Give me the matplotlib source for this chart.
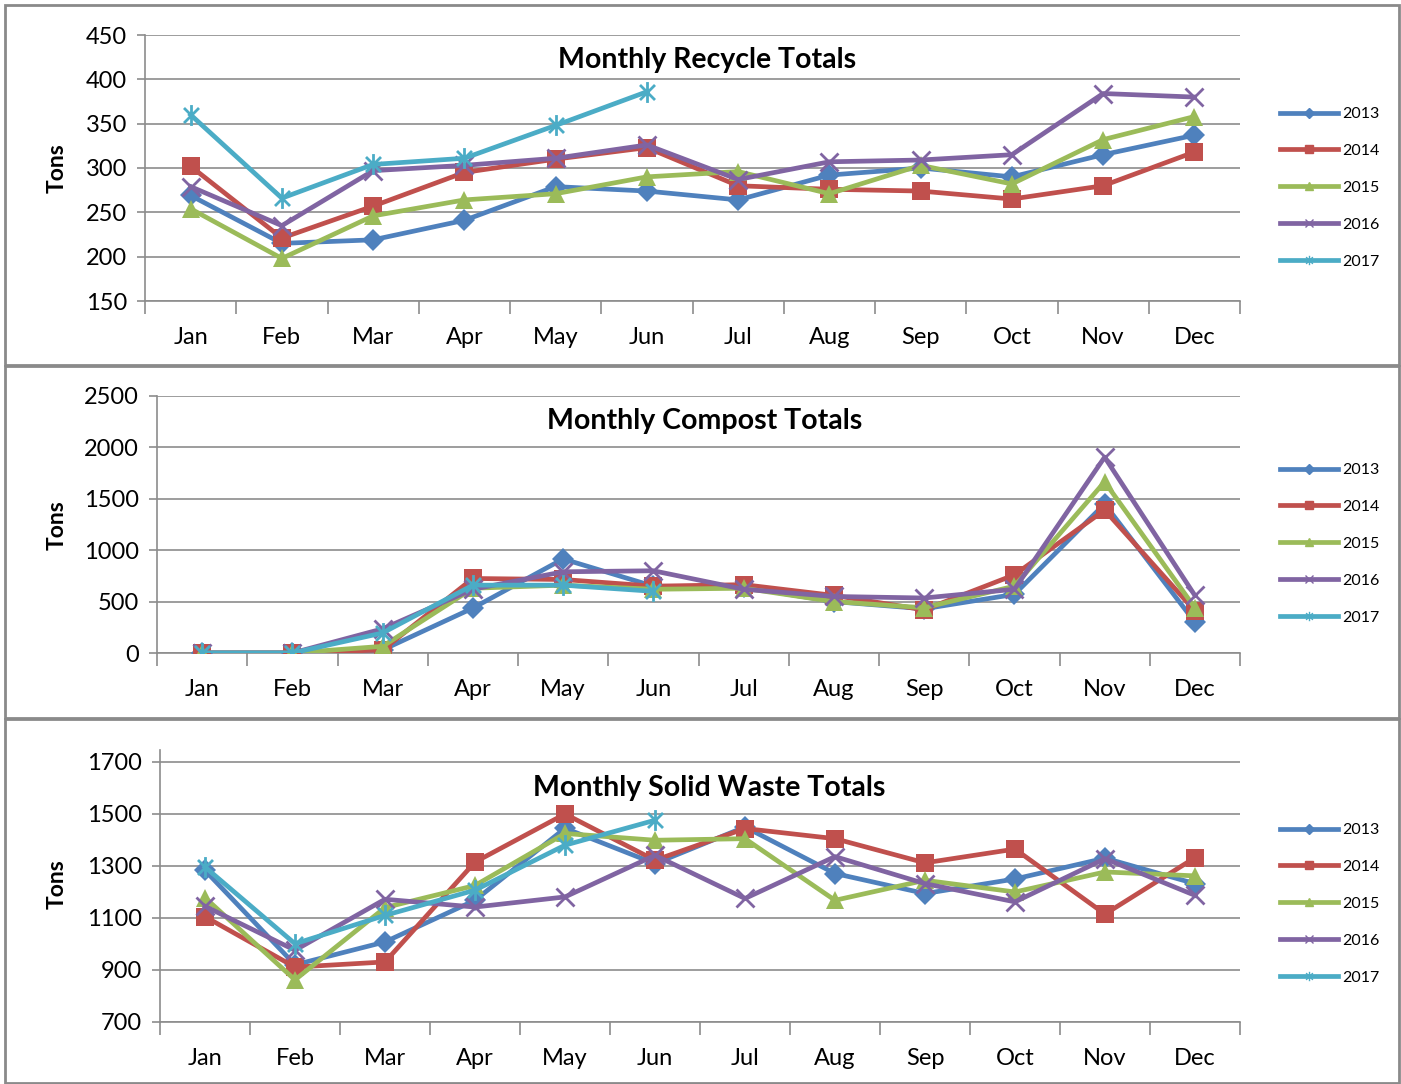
import matplotlib
matplotlib.use("Agg")
import matplotlib.pyplot as plt
from matplotlib.path import Path
from matplotlib.patches import Rectangle
import numpy as np

plt.rcParams['font.family'] = ['Lato', 'DejaVu Sans']

months = ["Jan", "Feb", "Mar", "Apr", "May", "Jun", "Jul", "Aug", "Sep", "Oct", "Nov", "Dec"]
years = ["2013", "2014", "2015", "2016", "2017"]

recycle_2013 = [269, 215, 219, 241, 279, 274, 264, 292, 300, 290, 315, 337]
recycle_2014 = [302, 221, 257, 295, 310, 323, 280, 276, 274, 265, 280, 318]
recycle_2015 = [254, 198, 246, 264, 271, 290, 296, 271, 303, 282, 332, 358]
recycle_2016 = [279, 235, 297, 303, 311, 326, 287, 307, 309, 315, 384, 380]
recycle_2017 = [360, 266, 304, 311, 348, 386]

compost_2013 = [0, 0, 30, 437, 915, 650, 640, 500, 430, 570, 1450, 300]
compost_2014 = [0, 0, 30, 725, 715, 650, 665, 560, 420, 760, 1390, 410]
compost_2015 = [0, 0, 65, 630, 660, 620, 630, 500, 440, 650, 1665, 440]
compost_2016 = [0, 0, 235, 620, 790, 800, 620, 550, 535, 620, 1905, 560]
compost_2017 = [0, 0, 195, 660, 660, 600]

waste_2013 = [1283, 920, 1008, 1168, 1445, 1309, 1450, 1271, 1194, 1250, 1330, 1232]
waste_2014 = [1105, 911, 931, 1315, 1500, 1322, 1444, 1405, 1312, 1365, 1115, 1332]
waste_2015 = [1178, 862, 1140, 1225, 1425, 1399, 1405, 1168, 1245, 1200, 1277, 1262]
waste_2016 = [1145, 976, 1172, 1142, 1181, 1341, 1175, 1336, 1232, 1162, 1328, 1187]
waste_2017 = [1296, 1001, 1110, 1207, 1380, 1476]

colors = ["#4F81BD", "#C0504D", "#9BBB59", "#8064A2", "#4BACC6"]

asterisk = Path([(0, -1), (0, 1), (-0.72, -0.72), (0.72, 0.72), (-0.72, 0.72), (0.72, -0.72)],
                [Path.MOVETO, Path.LINETO, Path.MOVETO, Path.LINETO, Path.MOVETO, Path.LINETO])
markers = [("D", 11, 0), ("s", 13, 0), ("^", 13, 0), ("x", 13, 2), (asterisk, 15, 2)]

W, H = 1401, 1084
fig = plt.figure(figsize=(W / 100, H / 100), dpi=100)
fig.patch.set_facecolor("white")

grid_c = "#8C8C8C"

def fx(px):
    return px / W

def fy(py):
    return 1 - py / H

panels = [
    dict(rect=(145, 35, 1240, 301), ylim=(150, 450), ticks=np.arange(150, 451, 50),
         series=[recycle_2013, recycle_2014, recycle_2015, recycle_2016, recycle_2017],
         title="Monthly Recycle Totals", title_xy=(707, 60), tons_y=168,
         leg_y=107, frame=(5, 5, 1399, 365)),
    dict(rect=(157, 396, 1240, 653), ylim=(0, 2500), ticks=np.arange(0, 2501, 500),
         series=[compost_2013, compost_2014, compost_2015, compost_2016, compost_2017],
         title="Monthly Compost Totals", title_xy=(705, 421), tons_y=525,
         leg_y=463, frame=(5, 366, 1399, 718)),
    dict(rect=(160, 750, 1240, 1022), ylim=(700, 1746), ticks=np.arange(700, 1701, 200),
         series=[waste_2013, waste_2014, waste_2015, waste_2016, waste_2017],
         title="Monthly Solid Waste Totals", title_xy=(709, 788), tons_y=884,
         leg_y=823, frame=(5, 719, 1399, 1083)),
]

for p in panels:
    x0, y0, x1, y1 = p["rect"]
    ax = fig.add_axes([fx(x0), fy(y1), fx(x1) - fx(x0), fy(y0) - fy(y1)])
    for i, s in enumerate(p["series"]):
        m, ms, mew = markers[i]
        xs = np.arange(len(s))
        ax.plot(xs, s, color=colors[i], lw=3.4, marker=m, markersize=ms,
                markeredgewidth=mew, markeredgecolor=colors[i],
                markerfacecolor=colors[i], solid_joinstyle="round", zorder=3 + i)
    ax.set_xlim(-0.5, 11.5)
    ax.set_ylim(*p["ylim"])
    ax.set_yticks(p["ticks"])
    ax.set_xticks(np.arange(-0.5, 12, 1))
    ax.set_xticklabels([])
    ax.set_xticks(np.arange(12), minor=True)
    ax.set_xticklabels(months, minor=True)
    ax.tick_params(axis="x", which="major", length=9, width=1.2, color=grid_c, direction="out")
    ax.tick_params(axis="x", which="minor", length=0, pad=19, labelsize=17)
    ax.tick_params(axis="y", length=6, width=1.2, color=grid_c, labelsize=17, pad=7)
    ax.grid(axis="y", color=grid_c, lw=1.2)
    ax.set_axisbelow(True)
    for side in ["top", "right"]:
        ax.spines[side].set_visible(False)
    for side in ["left", "bottom"]:
        ax.spines[side].set_color(grid_c)
        ax.spines[side].set_linewidth(1.2)
    ax.set_facecolor("none")

    fig.text(fx(p["title_xy"][0]), fy(p["title_xy"][1]), p["title"], ha="center", va="center",
             fontsize=20.5, fontweight="bold")
    fig.text(fx(57), fy(p["tons_y"]), "Tons", rotation=90, ha="center", va="center",
             fontsize=16.5, fontweight="bold")

    leg_handles = []
    for i in range(5):
        m, ms, mew = markers[i]
        h, = ax.plot([], [], color=colors[i], lw=3.4, marker=m, markersize=ms * 0.45,
                     markeredgewidth=1, markeredgecolor=colors[i], markerfacecolor=colors[i])
        leg_handles.append(h)
    fig.legend(leg_handles, years, loc="upper left",
               bbox_to_anchor=(fx(1280), fy(p["leg_y"])), frameon=False,
               fontsize=11.5, handlelength=3.6, handletextpad=0.3, labelspacing=1.42,
               borderpad=0, borderaxespad=0)

    fxa, fya, fxb, fyb = p["frame"]
    fig.patches.append(Rectangle((fx(fxa), fy(fyb)), fx(fxb) - fx(fxa), fy(fya) - fy(fyb),
                                 transform=fig.transFigure, fill=False,
                                 edgecolor="#8A8A8A", lw=2, zorder=0))

fig.savefig("out.png", dpi=100, facecolor="white")
